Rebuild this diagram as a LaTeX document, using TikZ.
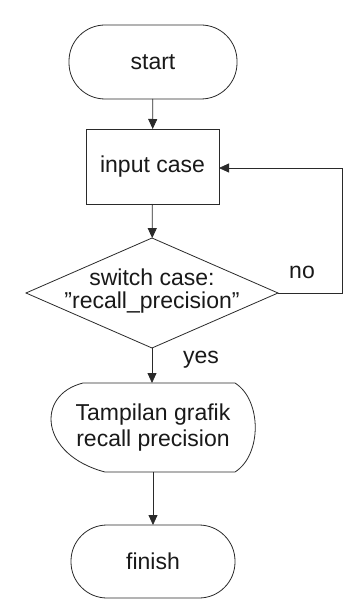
\documentclass[tikz,border=0pt]{standalone}
\usepackage{fontspec}
\setmainfont{Liberation Sans}
\usetikzlibrary{arrows.meta,shapes.geometric}
\definecolor{ink}{HTML}{2A2A2A}
\newcommand{\dq}{\symbol{"22}}
\begin{document}
\begin{tikzpicture}[x=1pt,y=-1pt,
  line width=0.8pt, draw=ink, text=black!90,
  every node/.style={font=\fontsize{23}{26}\selectfont, inner sep=0pt, outer sep=0pt},
  terminal/.style={draw, rectangle, rounded corners=36pt, minimum width=#1, minimum height=74pt},
  process/.style={draw, rectangle, minimum width=133pt, minimum height=75pt},
  decision/.style={draw, diamond, aspect=2.29, minimum width=252pt, minimum height=110pt, align=center},
  flow/.style={-{Triangle[width=9pt,length=10pt]}, ink}]
\useasboundingbox (0,0) rectangle (349,599);
\fill[white] (0,0) rectangle (349,599);

% flowchart boxes
\node[terminal=168pt] (start) at (153,62) {start};
\node[process] (in) at (152.5,166.5) {input case};
\node[decision] (sw) at (152,293) {};
\node (swt1) at (152,277) {switch case:};
\node (swt2) at (152,303) {\dq recall\_precision\dq};

% display symbol: pointed curve on the left, arc on the right
\node[minimum width=206pt, minimum height=89pt, align=center] (disp) at (155,427.5)
  {\strut};
\draw (83,383) -- (235,383)
  .. controls (262,400) and (262,455) .. (235,472)
  -- (105,472)
  .. controls (40,455) and (35,395) .. (83,383) -- cycle;
\node[align=center] (dispt) at (153,427.5) {Tampilan grafik\\recall precision};

\node[terminal=164pt, minimum height=73pt] (fin) at (153,561.5) {finish};

% connectors
\draw[flow] (start) -- (in);
\draw[flow] (in) -- (sw);
\draw[flow] (sw.south) -- (sw.south |- disp.north);
\draw[flow] (disp.south -| fin.north) -- (fin);
\coordinate (lp1) at (342,293);
\coordinate (lp2) at (342,168);
\draw[flow] (sw.east) -- (lp1) -- (lp2) -- (in.east |- lp2);

% branch labels
\node (no) at (302,272) {no};
\node (yes) at (201,360) {yes};
\end{tikzpicture}
\end{document}
